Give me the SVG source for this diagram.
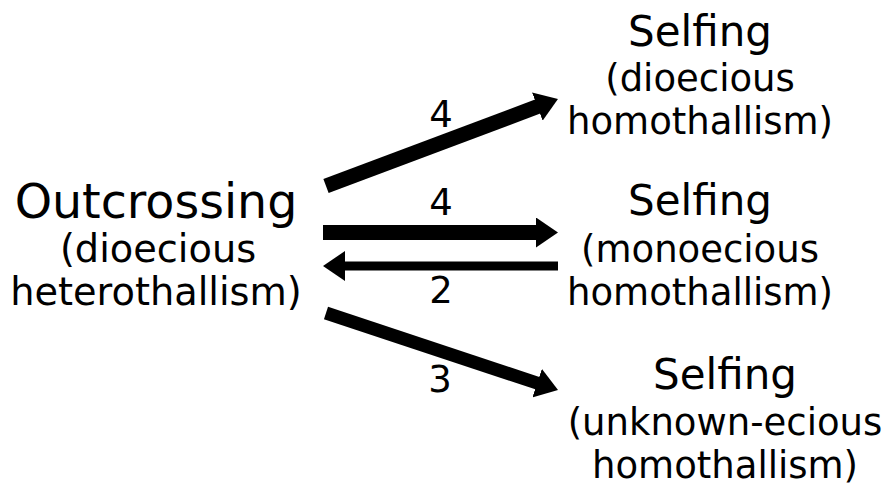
<svg xmlns="http://www.w3.org/2000/svg" width="891" height="489" viewBox="0 0 891 489">
<style>
text{font-family:"DejaVu Sans","Noto Sans",sans-serif;fill:#000;text-anchor:middle}
.t1{font-size:47.5px}
.t2{font-size:42px}
.s{font-size:37px}
.sl{font-size:38.3px}
.c{stroke:#000;fill:none;stroke-linecap:butt}
</style>
<defs>
<marker id="ah" markerUnits="userSpaceOnUse" markerWidth="22" markerHeight="30" viewBox="0 0 22 30" refX="1" refY="15" orient="auto">
<path d="M0,0 L22,15 L0,30 Z" fill="#000"/>
</marker>
</defs>
<rect width="891" height="489" fill="#fff"/>
<g id="outcrossing">
<text class="t1" x="156" y="218">Outcrossing</text>
<text class="sl" x="158" y="262">(dioecious</text>
<text class="sl" x="156" y="305">heterothallism)</text>
</g>
<g id="selfing-dioecious">
<text class="t2" x="700" y="46">Selfing</text>
<text class="s" x="700" y="91">(dioecious</text>
<text class="s" x="700" y="134">homothallism)</text>
</g>
<g id="selfing-monoecious">
<text class="t2" x="700" y="215">Selfing</text>
<text class="s" x="700" y="262">(monoecious</text>
<text class="s" x="700" y="305">homothallism)</text>
</g>
<g id="selfing-unknown">
<text class="t2" x="725" y="389">Selfing</text>
<text class="s" x="725" y="435">(unknown-ecious</text>
<text class="s" x="725" y="478">homothallism)</text>
</g>
<g id="connectors">
<line class="c" x1="326" y1="186" x2="538.3" y2="106.3" stroke-width="15" marker-end="url(#ah)"/>
<line class="c" x1="323" y1="232.5" x2="537" y2="232.5" stroke-width="15" marker-end="url(#ah)"/>
<line class="c" x1="558" y1="266" x2="344" y2="266" stroke-width="9" marker-end="url(#ah)"/>
<line class="c" x1="326" y1="313" x2="538.1" y2="383.4" stroke-width="13" marker-end="url(#ah)"/>
<text class="s" x="441" y="127">4</text>
<text class="s" x="441" y="215">4</text>
<text class="s" x="441" y="303">2</text>
<text class="s" x="440" y="392">3</text>
</g>
</svg>
